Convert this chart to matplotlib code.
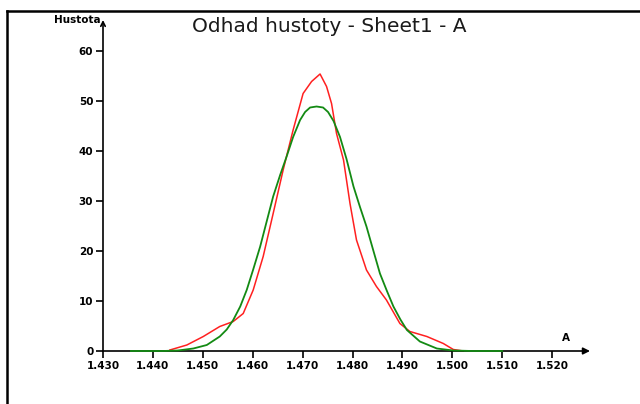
# -*- coding: utf-8 -*-

import matplotlib
matplotlib.use("Agg")
import matplotlib.pyplot as plt
from matplotlib.lines import Line2D

# kernel density estimate (red)
kde_x = [1.4434, 1.4468, 1.4501, 1.4534, 1.4561, 1.4581, 1.4601, 1.4621,
         1.4641, 1.4661, 1.4681, 1.4701, 1.4718, 1.4735, 1.4748, 1.4758,
         1.4768, 1.4782, 1.4795, 1.4808, 1.4828, 1.4848, 1.4868, 1.4895,
         1.4915, 1.4949, 1.4982, 1.5002, 1.5022]
kde_y = [0.2, 1.2, 2.9, 4.9, 5.9, 7.5, 12.2, 18.9,
         27.5, 36.2, 44.2, 51.5, 53.9, 55.4, 52.9, 49.5,
         43.5, 38.2, 29.5, 22.2, 16.2, 12.9, 10.2, 5.5,
         3.9, 2.9, 1.5, 0.3, 0.0]

# normal fit (green)
norm_x = [1.4356, 1.4420, 1.4450, 1.4481, 1.4508, 1.4534, 1.4548, 1.4561,
          1.4575, 1.4588, 1.4601, 1.4615, 1.4628, 1.4641, 1.4655, 1.4668,
          1.4681, 1.4695, 1.4705, 1.4715, 1.4728, 1.4741, 1.4751, 1.4762,
          1.4775, 1.4788, 1.4802, 1.4815, 1.4828, 1.4842, 1.4855, 1.4869,
          1.4882, 1.4896, 1.4909, 1.4935, 1.4969, 1.5002, 1.5040, 1.5100]
norm_y = [0.0, 0.0, 0.1, 0.5, 1.2, 2.9, 4.3, 6.2,
          8.9, 12.2, 16.3, 20.9, 25.9, 30.9, 35.2, 38.9,
          42.8, 46.2, 47.8, 48.7, 48.9, 48.7, 47.8, 46.0,
          42.8, 38.4, 32.9, 28.8, 24.9, 20.0, 15.5, 12.0,
          8.9, 6.3, 4.2, 1.9, 0.5, 0.1, 0.0, 0.0]

x_ticks = [1.430, 1.440, 1.450, 1.460, 1.470, 1.480, 1.490, 1.500, 1.510, 1.520]
y_ticks = [0, 10, 20, 30, 40, 50, 60]

fig = plt.figure(figsize=(6.4, 4.04), dpi=100)
W, H = 640, 404
# axes box in pixels: left 103, right 590, top 20, bottom 351
ax = fig.add_axes([103 / W, (H - 351) / H, (590 - 103) / W, (351 - 20) / H])
ax.set_xlim(1.430, 1.430 + (590 - 103) / 4990)
ax.set_ylim(0, (351 - 20) / 5.0)

ax.plot(kde_x, kde_y, color="#ff2020", linewidth=1.1, clip_on=False, zorder=3)
ax.plot(norm_x, norm_y, color="#138a13", linewidth=1.3, clip_on=False, zorder=4)

for s in ax.spines.values():
    s.set_visible(False)

# axis lines with arrows
ax.annotate("", xy=(1.0, 0), xytext=(0, 0), xycoords="axes fraction",
            arrowprops=dict(arrowstyle="-|>", lw=1.2, color="black",
                            mutation_scale=10, shrinkA=0, shrinkB=0))
ax.annotate("", xy=(0, 1.0), xytext=(0, 0), xycoords="axes fraction",
            arrowprops=dict(arrowstyle="->", lw=1.2, color="black",
                            mutation_scale=8, shrinkA=0, shrinkB=0))

tick_font = dict(family=["Liberation Sans Narrow", "DejaVu Sans"], size=7.5, weight="bold")
ax.set_xticks(x_ticks)
ax.set_xticklabels([f"{v:.3f}" for v in x_ticks], fontdict=tick_font)
ax.set_yticks(y_ticks)
ax.set_yticklabels([str(v) for v in y_ticks], fontdict=tick_font)
ax.tick_params(axis="both", direction="out", length=5, width=1.2, pad=2, colors="black")

ax.text(-0.005, 1.0, "Hustota", transform=ax.transAxes, ha="right", va="center",
        fontdict=tick_font)
fig.text(566 / W, 1 - 338 / H, "A", ha="center", va="center", fontdict=tick_font)

fig.text(329 / W, 1 - 27 / H, "Odhad hustoty - Sheet1 - A", ha="center", va="center",
         fontsize=14.5, color="#1a1a1a")

# frame lines (top and left)
fig.add_artist(Line2D([7 / W, 1], [1 - 11 / H, 1 - 11 / H], color="black", lw=1.8,
                      transform=fig.transFigure))
fig.add_artist(Line2D([7 / W, 7 / W], [0, 1 - 11 / H], color="black", lw=1.8,
                      transform=fig.transFigure))

fig.savefig("out.png", dpi=100)
plt.close(fig)
